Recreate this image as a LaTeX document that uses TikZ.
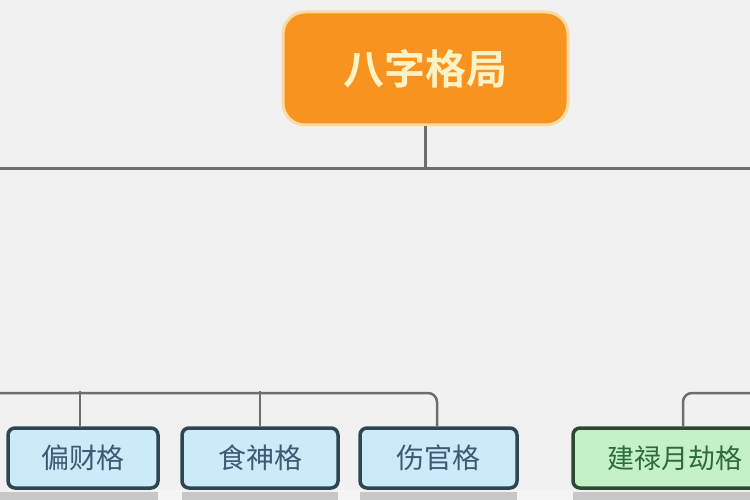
\documentclass[tikz,border=0pt]{standalone}
\usepackage{fontspec}
\newfontfamily\cjk{Noto Sans CJK SC}
\newfontfamily\cjkb{Noto Sans CJK SC Bold}
\usetikzlibrary{calc}
\definecolor{bgc}{HTML}{F1F1F1}
\definecolor{rootfill}{HTML}{F7931E}
\definecolor{rootdraw}{HTML}{FCD9A0}
\definecolor{roottext}{HTML}{FFF2C4}
\definecolor{linec}{HTML}{6E6E6E}
\definecolor{bluefill}{HTML}{CBEBF8}
\definecolor{bluedraw}{HTML}{2D4652}
\definecolor{bluetext}{HTML}{3D5A73}
\definecolor{greenfill}{HTML}{C4F2C6}
\definecolor{greendraw}{HTML}{2C4A33}
\definecolor{greentext}{HTML}{2E6B3A}
\tikzset{
  rootbox/.style={draw=rootdraw, line width=3pt, fill=rootfill, rounded corners=22pt,
    minimum width=285pt, minimum height=113pt, inner sep=0pt,
    text=roottext, font=\cjkb\fontsize{41}{44}\selectfont},
  bluebox/.style={draw=bluedraw, line width=3.5pt, fill=bluefill, rounded corners=7pt,
    minimum height=60pt, inner sep=0pt, text=bluetext, font=\cjk\fontsize{28}{32}\selectfont},
  greenbox/.style={draw=greendraw, line width=3.5pt, fill=greenfill, rounded corners=7pt,
    minimum height=60pt, inner sep=0pt, text=greentext, font=\cjk\fontsize{27}{32}\selectfont},
  conn/.style={draw=linec, line width=3pt},
  branch/.style={draw=linec, line width=2.5pt, rounded corners=9pt},
}
\begin{document}
\begin{tikzpicture}[x=1pt, y=-1pt]
\fill[bgc] (0,0) rectangle (750,500);
\useasboundingbox (0,0) rectangle (750,500);
% bottom faint band
\fill[black!22] (0,492) rectangle (750,500);
\fill[bgc!70!white] (158,490) rectangle (182,500);
\fill[bgc!70!white] (338,490) rectangle (360,500);
\fill[bgc!70!white] (517,490) rectangle (573,500);

\node[rootbox] (root) at (425.5,68.5) {八字格局};

\coordinate (hl) at (0,169);
\coordinate (hr) at (750,169);
\coordinate (hm) at (425.5,169);
\draw[conn] (hl) -- (hr);
\draw[draw=linec, line width=2.5pt] (root.south) -- (hm);

\node[bluebox, minimum width=150pt] (b1) at (83,458) {偏财格};
\node[bluebox, minimum width=156pt] (b2) at (260,458) {食神格};
\node[bluebox, minimum width=157pt] (b3) at (438.5,458) {伤官格};
\node[greenbox, minimum width=220pt] (b4) at (683,458) {建禄月劫格\hspace*{16pt}};

\coordinate (ll) at (0,393);
\coordinate (rr) at (750,393);
\draw[branch] (ll) -| ($(b3.north)+(-1.5,0)$);
\draw[draw=linec, line width=2.5pt] ($(b1.north)+(-3,0)$) -- ($(b1.north)+(-3,-35)$);
\draw[draw=linec, line width=2.5pt] (b2.north) -- ($(b2.north)+(0,-35)$);
\draw[branch] (rr) -| (b4.north);
\end{tikzpicture}
\end{document}
